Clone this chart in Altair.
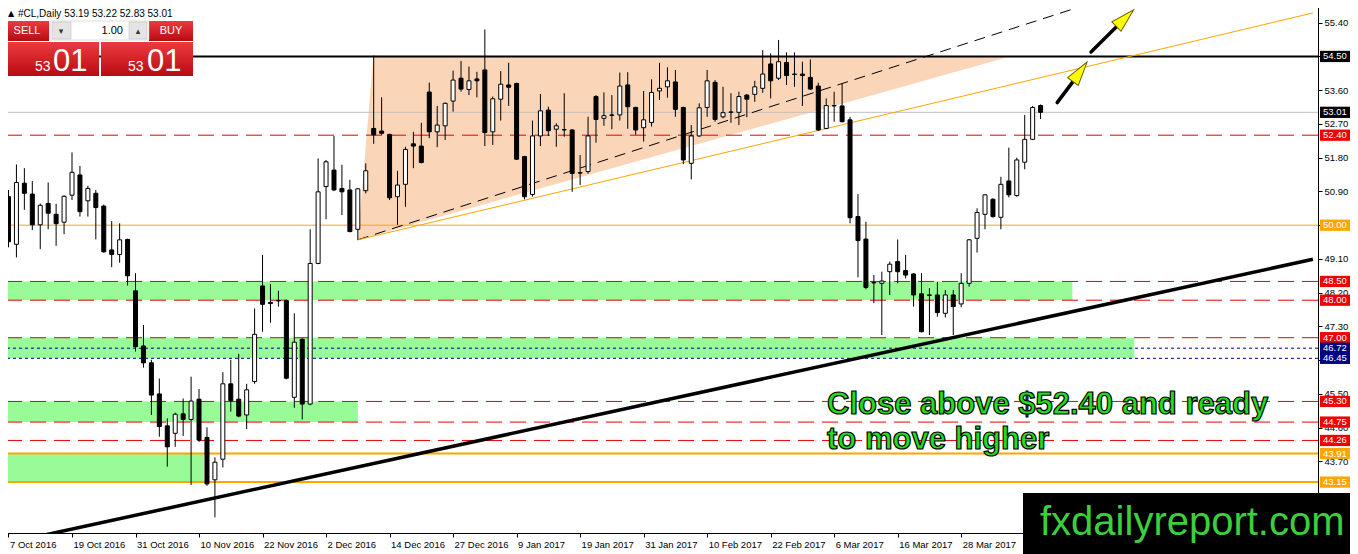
import altair as alt
import pandas as pd

# ---------------- data ----------------
OPEN = [50.76, 49.49, 51.12, 50.83, 50.01, 50.58, 50.29, 50.08, 50.80, 51.34,
        50.65, 50.85, 50.51, 49.34, 49.22, 49.62, 48.25, 46.78, 46.33, 45.50,
        44.65, 44.45, 44.97, 44.82, 45.36, 44.34, 43.21, 43.76, 45.77, 45.36,
        44.94, 45.83, 48.38, 47.94, 47.99, 47.99, 45.41, 46.96, 45.23, 48.98,
        51.03, 51.47, 50.98, 50.94, 49.89, 50.92, 52.58, 52.51, 52.42, 50.76,
        51.09, 52.17, 52.11, 53.55, 52.49, 52.65, 53.31, 53.92, 53.62, 53.90,
        54.14, 52.49, 53.36, 53.74, 53.78, 51.83, 50.82, 52.38, 53.07, 52.56,
        52.54, 52.54, 51.40, 51.43, 53.43, 52.85, 52.94, 52.94, 53.74, 53.14,
        52.60, 52.74, 53.58, 53.69, 53.82, 53.14, 51.65, 52.38, 53.14, 53.81,
        52.89, 53.01, 53.01, 53.47, 53.49, 53.65, 54.30, 53.92, 54.34, 54.03,
        54.03, 53.94, 53.71, 52.58, 53.19, 53.18, 52.81, 50.23, 49.63, 48.47,
        48.45, 48.76, 49.03, 48.79, 48.70, 48.17, 48.14, 48.14, 47.65, 48.14,
        47.90, 48.45, 49.65, 50.29, 50.69, 50.21, 51.18, 50.79, 51.68, 52.29,
        53.19]
HIGH = [50.94, 51.62, 51.52, 51.18, 50.58, 51.14, 50.57, 50.80, 51.94, 51.58,
        51.05, 50.94, 50.55, 50.11, 50.05, 49.64, 48.72, 47.34, 46.41, 45.91,
        44.85, 45.00, 45.38, 45.96, 45.63, 44.61, 43.81, 46.08, 46.41, 46.57,
        45.77, 47.78, 49.21, 48.43, 48.25, 48.02, 47.65, 46.98, 49.89, 51.78,
        51.74, 52.38, 51.61, 51.21, 50.99, 51.65, 54.52, 53.41, 52.44, 51.45,
        52.09, 52.49, 52.73, 53.80, 53.18, 53.27, 54.12, 54.38, 54.23, 54.09,
        55.22, 53.43, 54.11, 54.33, 53.80, 51.85, 52.79, 53.50, 53.16, 52.72,
        53.52, 52.56, 51.87, 52.89, 53.47, 53.54, 53.47, 54.07, 54.08, 53.16,
        53.58, 53.89, 54.33, 54.21, 54.14, 53.16, 52.67, 53.25, 54.14, 53.87,
        53.69, 53.52, 53.56, 53.50, 53.85, 54.67, 54.58, 54.94, 54.61, 54.61,
        54.36, 54.42, 53.80, 53.38, 53.56, 53.78, 52.89, 50.83, 50.09, 48.67,
        48.76, 49.03, 49.62, 49.21, 48.72, 48.72, 48.32, 48.49, 48.27, 48.27,
        48.72, 49.63, 50.45, 50.82, 50.72, 51.29, 52.07, 51.80, 52.94, 53.18,
        53.22]
LOW = [49.41, 49.14, 50.41, 49.87, 49.36, 49.89, 49.45, 49.76, 50.67, 50.23,
       50.23, 49.62, 49.27, 48.88, 49.00, 48.39, 46.63, 46.20, 44.94, 44.36,
       43.56, 44.09, 44.38, 43.07, 44.22, 43.05, 42.21, 43.54, 45.03, 44.88,
       44.56, 45.77, 47.16, 47.40, 47.83, 45.89, 45.13, 44.82, 45.20, 48.96,
       50.16, 50.91, 50.27, 49.81, 49.61, 50.85, 52.17, 52.41, 50.67, 50.01,
       50.49, 51.52, 51.65, 52.32, 52.08, 52.27, 53.03, 53.56, 53.47, 53.41,
       52.11, 52.14, 52.79, 53.18, 51.74, 50.69, 50.76, 52.11, 52.38, 52.09,
       52.36, 50.89, 51.07, 51.37, 52.20, 52.65, 52.56, 52.79, 52.57, 52.41,
       52.23, 52.63, 53.34, 53.40, 52.89, 51.63, 51.22, 52.36, 52.89, 52.76,
       52.85, 52.73, 52.67, 52.88, 53.29, 53.53, 53.38, 53.87, 53.74, 53.69,
       53.18, 53.61, 52.51, 52.56, 52.76, 52.74, 50.05, 48.61, 48.29, 47.92,
       47.07, 48.14, 48.45, 48.58, 47.83, 47.14, 47.07, 47.56, 47.54, 47.07,
       47.81, 48.36, 49.27, 49.89, 50.20, 49.89, 50.74, 50.76, 51.49, 52.27,
       52.83]
CLOSE = [49.56, 51.14, 50.85, 50.01, 50.53, 50.32, 50.04, 50.77, 51.41, 50.36,
         50.98, 50.47, 49.29, 49.22, 49.61, 48.65, 46.76, 46.33, 45.47, 44.63,
         44.09, 44.96, 44.82, 45.31, 44.27, 43.10, 43.68, 45.77, 45.32, 44.91,
         45.61, 47.09, 47.89, 47.91, 47.98, 45.92, 46.88, 45.23, 48.98, 50.89,
         51.69, 50.94, 50.89, 49.83, 50.97, 51.45, 52.41, 52.45, 50.73, 51.07,
         52.02, 52.11, 51.67, 52.49, 52.67, 53.25, 53.87, 53.63, 53.85, 53.85,
         52.47, 53.37, 53.76, 53.68, 51.76, 50.76, 52.38, 53.05, 52.52, 52.65,
         52.55, 51.38, 51.39, 52.38, 52.82, 52.92, 52.93, 53.71, 53.16, 52.54,
         52.81, 53.54, 53.65, 53.85, 53.09, 51.74, 52.38, 53.13, 53.85, 52.82,
         53.00, 53.02, 53.43, 53.36, 53.69, 54.03, 53.85, 54.36, 53.99, 54.02,
         53.99, 53.63, 52.54, 53.19, 53.18, 52.76, 50.20, 49.59, 48.34, 48.46,
         48.51, 48.96, 48.76, 48.67, 48.14, 47.16, 48.13, 47.67, 48.14, 47.83,
         48.45, 49.61, 50.34, 50.81, 50.23, 51.09, 50.81, 51.74, 52.29, 53.14,
         53.01]

X_TICK_LABELS = ["7 Oct 2016", "19 Oct 2016", "31 Oct 2016", "10 Nov 2016",
                 "22 Nov 2016", "2 Dec 2016", "14 Dec 2016", "27 Dec 2016",
                 "9 Jan 2017", "19 Jan 2017", "31 Jan 2017", "10 Feb 2017",
                 "22 Feb 2017", "6 Mar 2017", "16 Mar 2017", "28 Mar 2017"]
X_TICK_BARS = [0, 8, 16, 24, 32, 40, 48, 56, 64, 72, 80, 88, 96, 104, 112, 120]
Y_TICKS = [42.80, 43.70, 44.60, 45.50, 46.40, 47.30, 48.20, 49.10,
           50.00, 50.90, 51.80, 52.70, 53.60, 54.50, 55.40]

RESISTANCE = [54.50]
LAST_PRICE = [53.01]
RED_LEVELS = [52.40, 48.50, 48.00, 47.00, 45.30, 44.75, 44.26]
NAVY_LEVELS = [46.72, 46.45]
ORANGE_THIN = [50.00]
ORANGE_THICK = [43.91, 43.15]

ZONE_LOW = [48.00, 46.45, 44.75, 43.15]
ZONE_HIGH = [48.50, 47.00, 45.30, 43.91]
ZONE_END_BAR = [134.0, 141.8, 44.0, 24.6]

TRI_BAR = [44.0, 45.96, 125.8]
TRI_PRICE = [49.61, 54.52, 54.48]

TREND_DASH_BAR = [44.0, 136.5]
TREND_DASH_PRICE = [49.61, 55.93]
TREND_ORANGE_BAR = [44.0, 164.3]
TREND_ORANGE_PRICE = [49.61, 55.66]
TREND_SUPPORT_BAR = [-0.2, 164.3]
TREND_SUPPORT_PRICE = [41.52, 49.09]

ARROW_TAIL_BAR = [132.09, 136.35]
ARROW_TAIL_PRICE = [53.27, 54.62]
ARROW_BASE_BAR = [134.08, 139.56]
ARROW_BASE_PRICE = [53.83, 55.29]
ARROW_HEAD_BAR = [134.96, 140.64]
ARROW_HEAD_PRICE = [54.09, 55.52]
ARROW_ANGLE = [36, 46]

ANNOT_TEXT = ["Close above $52.40 and ready", "to move higher"]
ANNOT_BAR = [103.1, 103.1]
ANNOT_PRICE = [44.965, 44.03]

BOX_PRICE = [54.50, 53.01, 52.40, 50.00, 48.50, 48.00, 47.00, 46.72, 46.45,
             45.30, 44.75, 44.26, 43.91, 43.15]
BOX_KIND = ["black", "black", "red", "orange", "red", "red", "red", "navy",
            "navy", "red", "red", "red", "orange", "orange"]

HEADER = "#CL,Daily  53.19 53.22 52.83 53.01"
WATERMARK = "fxdailyreport.com"

# ---------------- styling ----------------
FONT = "Liberation Sans"
RED = "#E60000"
RED_BOX = "#F00000"
ORANGE = "#FFA500"
NAVY = "#000080"
GREEN_ZONE = "#98FB98"
PEACH = "#FBD5B7"

X_MIN = -0.1875
X_MAX = X_MIN + 1316 / 8
Y_MIN = 41.792
Y_MAX = 56.0053

XS = alt.Scale(domain=[X_MIN, X_MAX], nice=False, zero=False)
YS = alt.Scale(domain=[Y_MIN, Y_MAX], nice=False, zero=False)

label_js = "[" + ",".join("'%s'" % s for s in X_TICK_LABELS) + "]"
X_AX = alt.Axis(values=X_TICK_BARS, labelExpr=label_js + "[round(datum.value/8)]",
                labelAlign="left", labelOffset=1, labelFlush=False, labelOverlap=False,
                grid=False, tickSize=4, tickColor="black", domainColor="black",
                labelColor="black", labelFont=FONT, labelFontSize=9.5, labelPadding=2,
                title=None)
Y_AX = alt.Axis(orient="right", values=Y_TICKS, format=".2f", grid=False, tickSize=4,
                tickColor="black", domainColor="black", labelColor="black",
                labelFont=FONT, labelFontSize=9.5, labelPadding=2, labelFlush=False,
                labelOverlap=False, title=None)


def X(f):
    return alt.X(f, type="quantitative", scale=XS, axis=X_AX)


def Y(f):
    return alt.Y(f, type="quantitative", scale=YS, axis=Y_AX)


# ---------------- layers ----------------
zones = pd.DataFrame({"x0": [X_MIN] * len(ZONE_LOW), "x1": ZONE_END_BAR,
                      "lo": ZONE_LOW, "hi": ZONE_HIGH})
zone_layer = alt.Chart(zones).mark_rect(color=GREEN_ZONE, clip=True).encode(
    x=X("x0"), x2=alt.X2("x1:Q"), y=Y("lo"), y2=alt.Y2("hi:Q"))

ab, bb, cb = TRI_BAR
ap, bp, cp = TRI_PRICE
lower_at_b = ap + (bb - ab) / (cb - ab) * (cp - ap)
tri = pd.DataFrame({"b": TRI_BAR, "top": [ap, bp, cp], "bot": [ap, lower_at_b, cp]})
tri_layer = alt.Chart(tri).mark_area(color=PEACH, opacity=1, clip=True).encode(
    x=X("b"), y=Y("top"), y2=alt.Y2("bot:Q"))


def hrule(levels, color, width, dash=None):
    kw = dict(color=color, strokeWidth=width, clip=True)
    if dash:
        kw["strokeDash"] = dash
    return alt.Chart(pd.DataFrame({"p": levels})).mark_rule(**kw).encode(y=Y("p"))


h_layers = [
    hrule(LAST_PRICE, "#C0C0C0", 1),
    hrule(ORANGE_THIN, ORANGE, 1),
    hrule(ORANGE_THICK, ORANGE, 2),
    hrule(RED_LEVELS, RED, 1, [16, 8]),
    hrule(NAVY_LEVELS, NAVY, 1, [3, 3]),
    hrule(RESISTANCE, "black", 2),
]


def tline(bars, prices, color, width, dash=None):
    kw = dict(color=color, strokeWidth=width, clip=True)
    if dash:
        kw["strokeDash"] = dash
    df = pd.DataFrame({"b": bars, "p": prices})
    return alt.Chart(df).mark_line(**kw).encode(x=X("b"), y=Y("p"))


t_layers = [
    tline(TREND_DASH_BAR, TREND_DASH_PRICE, "black", 1, [11, 7]),
    tline(TREND_ORANGE_BAR, TREND_ORANGE_PRICE, ORANGE, 1),
    tline(TREND_SUPPORT_BAR, TREND_SUPPORT_PRICE, "black", 3.5),
]

candles = pd.DataFrame({"i": list(range(len(OPEN))), "o": OPEN, "h": HIGH,
                        "l": LOW, "c": CLOSE})
candles["dir"] = ["up" if c >= o else "down" for o, c in zip(OPEN, CLOSE)]

wick_layer = alt.Chart(candles).mark_rule(color="black", strokeWidth=1, clip=True).encode(
    x=X("i"), y=Y("l"), y2=alt.Y2("h:Q"))
body_layer = alt.Chart(candles).mark_bar(width=4, stroke="black", strokeWidth=1,
                                         clip=True).encode(
    x=X("i"), y=Y("o"), y2=alt.Y2("c:Q"),
    fill=alt.Fill("dir:N", scale=alt.Scale(domain=["up", "down"],
                                           range=["#ffffff", "#000000"]), legend=None))

arrows = pd.DataFrame({"tb": ARROW_TAIL_BAR, "tp": ARROW_TAIL_PRICE,
                       "bb": ARROW_BASE_BAR, "bp": ARROW_BASE_PRICE,
                       "hb": ARROW_HEAD_BAR, "hp": ARROW_HEAD_PRICE,
                       "ang": ARROW_ANGLE})
shaft_layer = alt.Chart(arrows).mark_rule(color="black", strokeWidth=3.5,
                                          strokeCap="round", clip=False).encode(
    x=X("tb"), y=Y("tp"), x2=alt.X2("bb:Q"), y2=alt.Y2("bp:Q"))
head_layer = alt.Chart(arrows).mark_point(
    shape="M0,-1L0.55,1L-0.55,1Z", filled=True, fill="#FFFF00", stroke="#6A5A00",
    strokeWidth=1, opacity=1, size=576, clip=False).encode(
    x=X("hb"), y=Y("hp"), angle=alt.Angle("ang:Q", scale=None))

annot = pd.DataFrame({"t": ANNOT_TEXT, "b": ANNOT_BAR, "p": ANNOT_PRICE})
annot_layer = alt.Chart(annot).mark_text(
    align="left", baseline="alphabetic", font=FONT, fontSize=31, fontWeight="bold",
    fill="#22DD22", stroke="#000000", strokeWidth=1.2, clip=False).encode(
    x=X("b"), y=Y("p"), text="t:N")

boxes = pd.DataFrame({"p": BOX_PRICE, "kind": BOX_KIND})
boxes["lo"] = boxes["p"] - 0.15
boxes["hi"] = boxes["p"] + 0.15
boxes["lab"] = ["%.2f" % v for v in BOX_PRICE]
box_color = alt.Scale(domain=["black", "red", "orange", "navy"],
                      range=["#000000", RED_BOX, ORANGE, NAVY])
box_layer = alt.Chart(boxes).mark_rect(clip=False).encode(
    x=alt.value(1318), x2=alt.value(1349), y=Y("lo"), y2=alt.Y2("hi:Q"),
    color=alt.Color("kind:N", scale=box_color, legend=None))
box_text = alt.Chart(boxes).mark_text(
    align="left", baseline="middle", color="white", font=FONT, fontSize=9.5,
    clip=False).encode(x=alt.value(1321), y=Y("p"), text="lab:N")

# ---------------- terminal UI chrome (trade panel, header, watermark) ----------------
red_grad = alt.Gradient(gradient="linear", x1=0, x2=0, y1=0, y2=1,
                        stops=[alt.GradientStop(color="#EC3B3F", offset=0),
                               alt.GradientStop(color="#B80B12", offset=1)])
one = pd.DataFrame({"k": [0]})
panel_red = pd.DataFrame({"x1": [4, 147, 4, 99], "x2": [47, 191, 97, 191],
                          "y1": [21, 21, 42, 42], "y2": [41, 41, 76, 76]})
panel_red_layer = alt.Chart(panel_red).mark_rect(fill=red_grad).encode(
    x=alt.X("x1:Q", scale=None), x2="x2:Q", y=alt.Y("y1:Q", scale=None), y2="y2:Q")
panel_gray = pd.DataFrame({"x1": [48, 50, 127], "x2": [147, 69, 145],
                           "y1": [21, 22, 22], "y2": [40, 39, 39],
                           "f": ["#ffffff", "#E4E4E4", "#E4E4E4"]})
panel_gray_layer = alt.Chart(panel_gray).mark_rect(stroke="#BBBBBB", strokeWidth=0.5).encode(
    x=alt.X("x1:Q", scale=None), x2="x2:Q", y=alt.Y("y1:Q", scale=None), y2="y2:Q",
    fill=alt.Fill("f:N", scale=None))
panel_txt = pd.DataFrame({
    "t": ["SELL", "BUY", "1.00", "53", "01", "53", "01"],
    "x": [25, 169, 121, 33, 51, 126, 145],
    "y": [31, 31, 31, 71, 71, 71, 71],
    "s": [11, 11, 11, 14, 31, 14, 31],
    "al": ["center", "center", "right", "left", "left", "left", "left"],
    "c": ["#ffffff", "#ffffff", "#000000", "#ffffff", "#ffffff", "#ffffff", "#ffffff"]})
panel_text_layers = []
for al in ["center", "right", "left"]:
    sub = panel_txt[panel_txt["al"] == al]
    base = "middle" if al != "left" else "alphabetic"
    panel_text_layers.append(
        alt.Chart(sub).mark_text(align=al, baseline=base, font=FONT).encode(
            x=alt.X("x:Q", scale=None), y=alt.Y("y:Q", scale=None), text="t:N",
            size=alt.Size("s:Q", scale=None), color=alt.Color("c:N", scale=None)))
spin_glyphs = alt.Chart(pd.DataFrame({"t": ["\u25BE", "\u25B4"], "x": [59, 136]})).mark_text(
    font="DejaVu Sans", fontSize=9, color="#333333", baseline="middle").encode(
    x=alt.X("x:Q", scale=None), y=alt.value(30.5), text="t:N")
header_tri = alt.Chart(one).mark_text(text="\u25B2", font="DejaVu Sans", fontSize=8,
                                      color="black", baseline="middle").encode(
    x=alt.value(9), y=alt.value(14))
header_text = alt.Chart(one).mark_text(text=HEADER, font=FONT, fontSize=10, color="black",
                                       align="left", baseline="middle").encode(
    x=alt.value(16), y=alt.value(14))

wm_rect = alt.Chart(one).mark_rect(color="black", clip=False).encode(
    x=alt.value(1021), x2=alt.value(1360), y=alt.value(493), y2=alt.value(560))
wm_text = alt.Chart(one).mark_text(text=WATERMARK, font=FONT, fontSize=40, color="#3CCF3C",
                                   align="left", baseline="alphabetic", clip=False).encode(
    x=alt.value(1038), y=alt.value(535))

chart = alt.layer(
    zone_layer, tri_layer, *h_layers, *t_layers, wick_layer, body_layer,
    shaft_layer, head_layer, annot_layer,
    panel_red_layer, panel_gray_layer, *panel_text_layers, spin_glyphs,
    header_tri, header_text, box_layer, box_text, wm_rect, wm_text,
).properties(
    width=1316, height=533,
    autosize=alt.AutoSizeParams(type="none"),
    padding={"left": -6, "top": -8, "right": 32, "bottom": 21},
    background="white",
).configure_view(stroke="black", strokeWidth=1)

chart.save("out.html", embed_options={"renderer": "svg", "actions": False})
